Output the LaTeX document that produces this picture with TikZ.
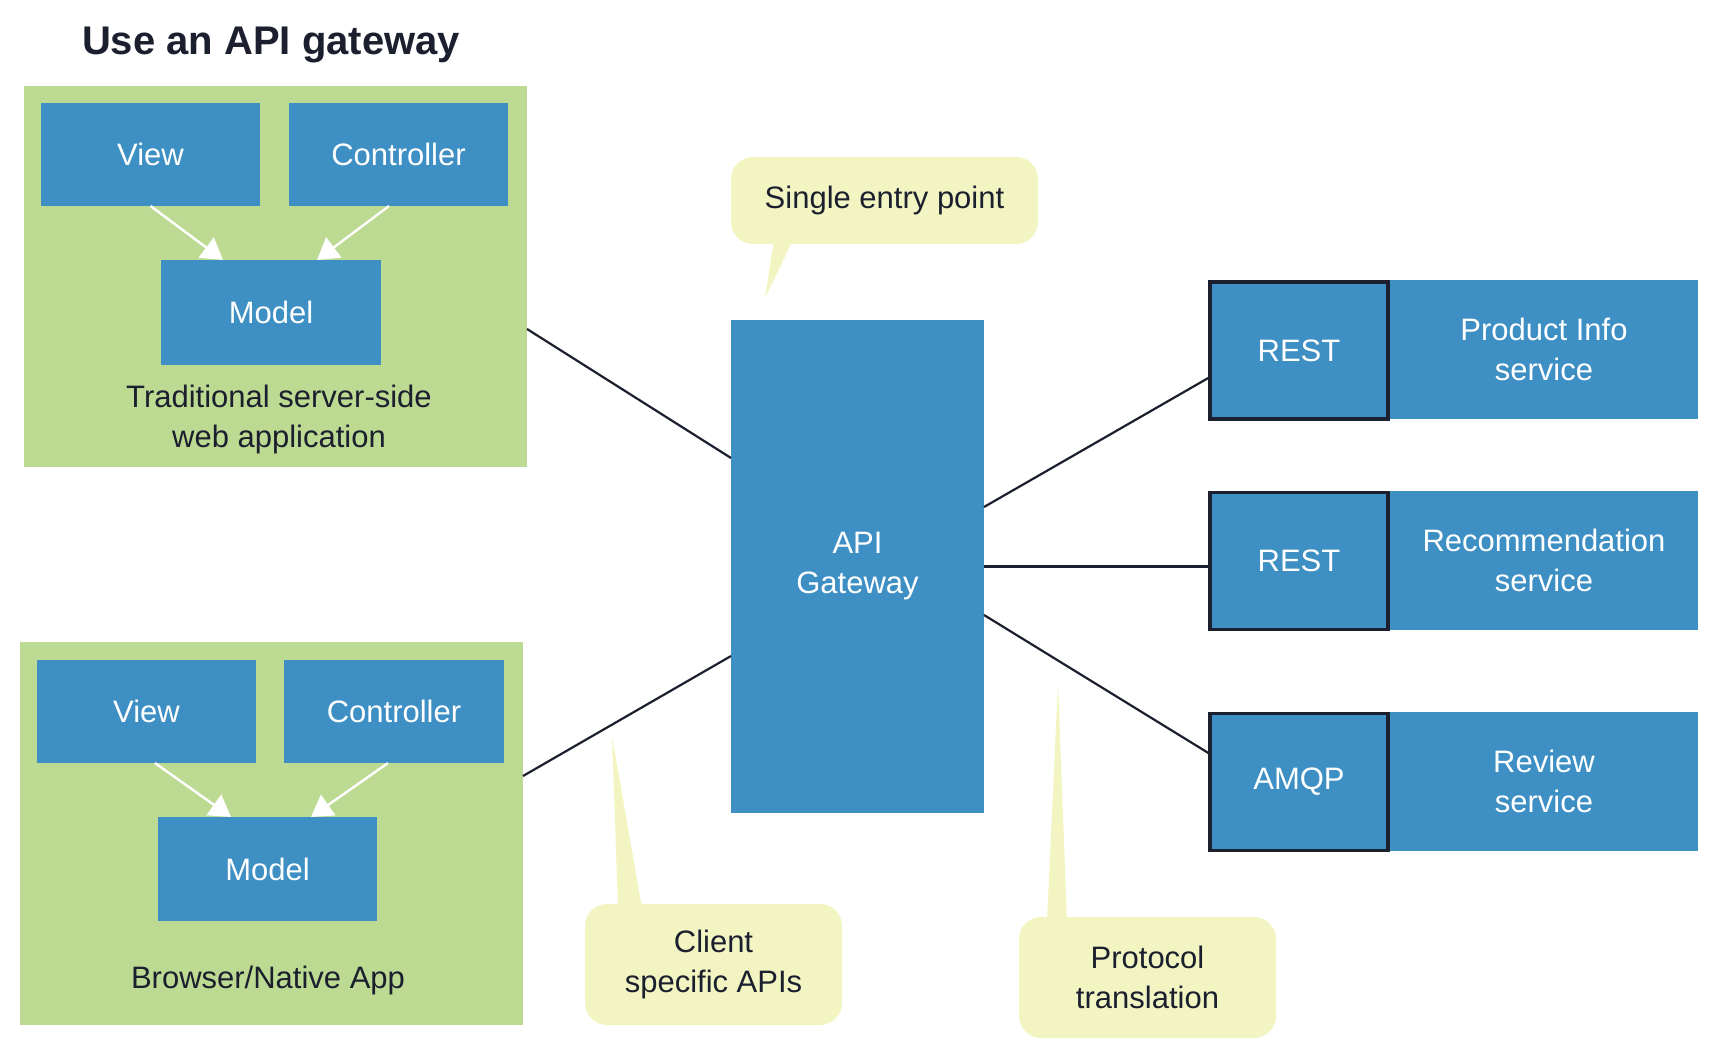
\documentclass[tikz,border=0pt]{standalone}
\usepackage{fontspec}
\setmainfont{Liberation Sans}
\usetikzlibrary{arrows.meta}
\definecolor{cblue}{RGB}{61,143,196}
\definecolor{cgreen}{RGB}{189,218,146}
\definecolor{cyellow}{RGB}{242,245,194}
\definecolor{cdark}{RGB}{27,31,46}
\tikzset{
  base/.style={inner sep=0pt, outer sep=0pt, font=\fontsize{31}{40}\selectfont, align=center},
  greenbox/.style={base, fill=cgreen},
  bluebox/.style={base, fill=cblue, text=white},
  protobox/.style={base, fill=cblue, text=white, draw=cdark, line width=3.5pt},
  callout/.style={base, fill=cyellow, text=cdark, rounded corners=22pt},
  plainlabel/.style={base, text=cdark},
  conn/.style={draw=cdark, line width=2.2pt},
  mvcarrow/.style={draw=white, line width=2.4pt, -{Triangle[width=25pt,length=21pt]}},
  tail/.style={fill=cyellow}
}
\begin{document}
\begin{tikzpicture}[x=1pt,y=-1pt]
\useasboundingbox (0,0) rectangle (1722,1049);
% title
\node[base, anchor=base west, text=cdark, font=\fontsize{40}{48}\selectfont\bfseries] (title) at (82,55) {Use an API gateway};
% client 1
\node[greenbox, minimum width=503pt, minimum height=381pt] (g1) at (275.5,276.5) {};
\node[bluebox, minimum width=219pt, minimum height=103pt] (v1) at (150.5,154.5) {View};
\node[bluebox, minimum width=219pt, minimum height=103pt] (c1) at (398.5,154.5) {Controller};
\node[bluebox, minimum width=220pt, minimum height=105pt] (m1) at (271,312.5) {Model};
\node[plainlabel] (l1) at (279,419) {Traditional server-side\\web application};
\draw[mvcarrow] (v1.south) -- ([xshift=-48pt]m1.north);
\draw[mvcarrow] ([xshift=-9.5pt]c1.south) -- ([xshift=46pt]m1.north);
% client 2
\node[greenbox, minimum width=503pt, minimum height=383pt] (g2) at (271.5,833.5) {};
\node[bluebox, minimum width=219pt, minimum height=103pt] (v2) at (146.5,711.5) {View};
\node[bluebox, minimum width=220pt, minimum height=103pt] (c2) at (394,711.5) {Controller};
\node[bluebox, minimum width=219pt, minimum height=104pt] (m2) at (267.5,869) {Model};
\node[plainlabel] (l2) at (268,980) {Browser/Native App};
\draw[mvcarrow] ([xshift=8.5pt]v2.south) -- ([xshift=-36.5pt]m2.north);
\draw[mvcarrow] ([xshift=-6pt]c2.south) -- ([xshift=43.5pt]m2.north);
% gateway
\node[bluebox, minimum width=253pt, minimum height=493pt] (api) at (857.5,566.5) {API\\Gateway};
% services
\node[bluebox, minimum width=308pt, minimum height=139pt] (s1) at (1544,349.5) {Product Info\\service};
\node[protobox, minimum width=178pt, minimum height=137pt] (r1) at (1299,350.5) {REST};
\node[bluebox, minimum width=308pt, minimum height=139pt] (s2) at (1544,560) {Recommendation\\service};
\node[protobox, minimum width=178pt, minimum height=137pt] (r2) at (1299,561) {REST};
\node[bluebox, minimum width=308pt, minimum height=139pt] (s3) at (1544,781) {Review\\service};
\node[protobox, minimum width=178pt, minimum height=137pt] (r3) at (1299,782) {AMQP};
% connectors
\draw[conn] ([yshift=-52.5pt]g1.east) -- ([yshift=108.5pt]api.west);
\draw[conn] ([yshift=57.5pt]g2.east) -- ([yshift=-89.5pt]api.west);
\draw[conn] ([yshift=59.5pt]api.east) -- ([yshift=-26.5pt]r1.west);
\draw[conn] (api.east) -- (api.east -| r2.west);
\draw[conn] ([yshift=-48.5pt]api.east) -- ([yshift=28pt]r3.west);
% callouts
\node[callout, minimum width=307pt, minimum height=87pt] (se) at (884.5,200.5) {Single entry point};
\coordinate (t1) at (765,298);
\fill[tail] ([xshift=43pt,yshift=4pt]se.south west) -- (t1) -- ([xshift=62pt,yshift=4pt]se.south west) -- cycle;
\node[callout, minimum width=257pt, minimum height=121pt] (cs) at (713.5,964.5) {Client\\specific APIs};
\coordinate (t2) at (612,736);
\fill[tail] ([xshift=33pt,yshift=-4pt]cs.north west) -- (t2) -- ([xshift=57pt,yshift=-4pt]cs.north west) -- cycle;
\node[callout, minimum width=257pt, minimum height=121pt] (pt) at (1147.5,977.5) {Protocol\\translation};
\coordinate (t3) at (1058,683);
\fill[tail] ([xshift=28pt,yshift=-4pt]pt.north west) -- (t3) -- ([xshift=48pt,yshift=-4pt]pt.north west) -- cycle;
\end{tikzpicture}
\end{document}
